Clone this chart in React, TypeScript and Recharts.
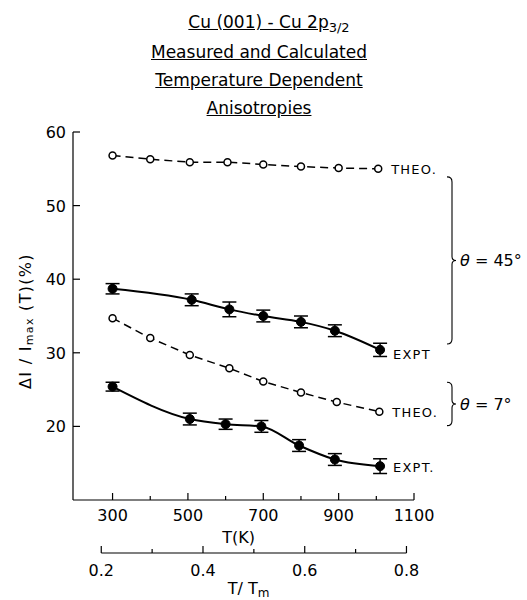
import React from 'react';
import { LineChart, Line, XAxis, YAxis, ErrorBar, ReferenceArea } from 'recharts';

const FONT = '"DejaVu Sans", sans-serif';
const TM = 1350; // K, melting point used for the T/Tm scale
const K_DOMAIN = [195, 1100];
const TM_DOMAIN = [K_DOMAIN[0] / TM, K_DOMAIN[1] / TM];

// theta = 45 deg
const theo45T = [300, 400, 505, 605, 700, 800, 900, 1005];
const theo45V = [56.8, 56.3, 55.9, 55.9, 55.6, 55.3, 55.1, 55.0];
const expt45T = [300, 510, 610, 700, 800, 890, 1010];
const expt45V = [38.7, 37.2, 35.9, 35.0, 34.2, 33.0, 30.4];
const expt45Err = [0.7, 0.8, 1.0, 0.8, 0.8, 0.8, 0.9];

// theta = 7 deg
const theo7T = [300, 400, 505, 610, 700, 800, 895, 1008];
const theo7V = [34.7, 32.0, 29.7, 27.9, 26.1, 24.6, 23.3, 22.0];
const expt7T = [300, 505, 600, 695, 795, 890, 1010];
const expt7V = [25.4, 21.0, 20.3, 20.0, 17.4, 15.5, 14.6];
const expt7Err = [0.6, 0.8, 0.7, 0.8, 0.8, 0.8, 1.0];

const kTicks = [300, 400, 500, 600, 700, 800, 900, 1000, 1100];
const kLabels = [300, 500, 700, 900, 1100];
const tmTicks = [0.2, 0.3, 0.4, 0.5, 0.6, 0.7, 0.8];
const tmLabels = ['0.2', '0.4', '0.6', '0.8'];
const yTicks = [20, 30, 40, 50, 60];

const TITLE = ['Measured and Calculated', 'Temperature Dependent', 'Anisotropies'];

// r = T/Tm, used to tie the second scale to the same points
const toRows = (t: number[], v: number[], e?: number[]) =>
  t.map((x, i) => ({ t: x, r: x / TM, v: v[i], err: e ? e[i] : 0 }));

const theo45 = toRows(theo45T, theo45V);
const expt45 = toRows(expt45T, expt45V, expt45Err);
const theo7 = toRows(theo7T, theo7V);
const expt7 = toRows(expt7T, expt7V, expt7Err);

const W = 527;
const H = 600;
const MARGIN = { top: 132, right: 113, bottom: 0, left: 13 };
const Y_W = 60;
const PLOT_W = W - MARGIN.left - MARGIN.right - Y_W;

const KTick = (p: any) => {
  const { x, y, payload } = p;
  const major = kLabels.includes(payload.value);
  return (
    <g>
      <line x1={x} x2={x} y1={y} y2={y - (major ? 7 : 4)} stroke="#000" strokeWidth={1.2} />
      {major && (
        <text x={x} y={y + 21} textAnchor="middle" fontSize={16} fontFamily={FONT} fill="#000">
          {payload.value}
        </text>
      )}
    </g>
  );
};

const TmTick = (p: any) => {
  const { x, y, payload, index } = p;
  const label = tmLabels.find((s) => Math.abs(parseFloat(s) - payload.value) < 1e-6);
  const step = (0.1 * PLOT_W) / (TM_DOMAIN[1] - TM_DOMAIN[0]);
  const last = index === tmTicks.length - 1;
  return (
    <g>
      <line x1={x} x2={x} y1={y} y2={y - (label ? 7 : 4)} stroke="#000" strokeWidth={1.2} />
      {!last && <line x1={x} x2={x + step} y1={y} y2={y} stroke="#000" strokeWidth={1.2} />}
      {label && (
        <text x={x} y={y + 23} textAnchor="middle" fontSize={16} fontFamily={FONT} fill="#000">
          {label}
        </text>
      )}
    </g>
  );
};

const YTick = (p: any) => {
  const { x, y, payload } = p;
  return (
    <g>
      <line x1={x} x2={x + 7} y1={y} y2={y} stroke="#000" strokeWidth={1.2} />
      <text x={x - 7} y={y + 6} textAnchor="end" fontSize={16} fontFamily={FONT} fill="#000">
        {payload.value}
      </text>
    </g>
  );
};

const endLabel = (text: string, count: number, dy: number) => (p: any) => {
  if (p.index !== count - 1) return null;
  const x = p.x ?? p.viewBox?.x;
  const y = p.y ?? p.viewBox?.y;
  return (
    <text x={x + 13} y={y + dy + 5} fontSize={13} fontFamily={FONT} letterSpacing={1.2} fill="#000">
      {text}
    </text>
  );
};

const Brace = (text: string) => (p: any) => {
  const { x, y, width, height } = p;
  const bx = x + width + 38;
  const top = y;
  const bot = y + height;
  const mid = (top + bot) / 2;
  const d = `M ${bx - 5} ${top} Q ${bx} ${top} ${bx} ${top + 5} L ${bx} ${mid - 4} Q ${bx} ${mid} ${bx + 4} ${mid} Q ${bx} ${mid} ${bx} ${mid + 4} L ${bx} ${bot - 5} Q ${bx} ${bot} ${bx - 5} ${bot}`;
  return (
    <g>
      <path d={d} fill="none" stroke="#000" strokeWidth={1.1} />
      <text x={bx + 8} y={mid + 6} fontSize={16} fontFamily={FONT} fill="#000">
        <tspan fontStyle="italic">θ</tspan> = {text}
      </text>
    </g>
  );
};

const YLabel = (p: any) => {
  const vb = p.viewBox;
  const cx = vb.x + 12;
  const cy = vb.y + vb.height / 2 + 5;
  return (
    <text
      x={cx}
      y={cy}
      transform={`rotate(-90 ${cx} ${cy})`}
      textAnchor="middle"
      dominantBaseline="central"
      fontSize={16}
      fontFamily={FONT}
      letterSpacing={1.3}
      fill="#000"
    >
      ΔI / I
      <tspan fontSize={11} dy={4}>max</tspan>
      <tspan dy={-4}> (T)(%)</tspan>
    </text>
  );
};

const XLabel = (text: React.ReactNode, dy: number, dx = 0) => (p: any) => {
  const vb = p.viewBox;
  return (
    <text x={vb.x + vb.width / 2 + dx} y={vb.y + dy} textAnchor="middle" fontSize={16} fontFamily={FONT} fill="#000">
      {text}
    </text>
  );
};

const dotOpen = { r: 3.5, fill: '#fff', stroke: '#000', strokeWidth: 1.5, strokeDasharray: 'none' };
const dotFill = { r: 4.5, fill: '#000', stroke: '#000', strokeWidth: 1 };

export default function App() {
  return (
    <div style={{ position: 'absolute', left: 0, top: 0, width: W, height: H, background: '#fff' }}>
      <div
        style={{
          position: 'absolute',
          left: 0,
          top: 8,
          width: 518,
          textAlign: 'center',
          fontFamily: FONT,
          fontSize: 17,
          lineHeight: '28px',
          color: '#000',
        }}
      >
        <div style={{ marginLeft: 20 }}>
          <span style={{ textDecoration: 'underline' }}>Cu (001) - Cu 2p</span>
          <span style={{ fontSize: 13, position: 'relative', top: 4 }}>3/2</span>
        </div>
        {TITLE.map((s) => (
          <div key={s}>
            <span style={{ textDecoration: 'underline' }}>{s}</span>
          </div>
        ))}
      </div>
      <LineChart width={W} height={H} margin={MARGIN}>
        <XAxis
          xAxisId="k"
          dataKey="t"
          type="number"
          domain={K_DOMAIN}
          allowDataOverflow
          ticks={kTicks}
          interval={0}
          height={53}
          tickSize={0}
          tickMargin={0}
          tick={<KTick />}
          axisLine={{ stroke: '#000', strokeWidth: 1.2 }}
          label={XLabel('T(K)', 43, -5)}
        />
        <XAxis
          xAxisId="tm"
          dataKey="r"
          type="number"
          domain={TM_DOMAIN}
          allowDataOverflow
          ticks={tmTicks}
          interval={0}
          height={47}
          tickSize={0}
          tickMargin={0}
          tick={<TmTick />}
          axisLine={false}
          label={XLabel(
            <>
              T/ T<tspan fontSize={12} dy={3}>m</tspan>
            </>,
            41,
            5
          )}
        />
        <YAxis
          type="number"
          domain={[10, 60]}
          allowDataOverflow
          ticks={yTicks}
          interval={0}
          width={Y_W}
          tickSize={0}
          tickMargin={0}
          tick={<YTick />}
          axisLine={{ stroke: '#000', strokeWidth: 1.2 }}
          label={YLabel}
        />
        <ReferenceArea xAxisId="k" y1={31.2} y2={53.9} ifOverflow="visible" fill="none" shape={Brace('45°')} />
        <ReferenceArea xAxisId="k" y1={20.1} y2={26.0} ifOverflow="visible" fill="none" shape={Brace('7°')} />
        {/* invisible twin so the T/Tm axis has a domain */}
        <Line
          xAxisId="tm"
          data={expt45}
          dataKey="v"
          stroke="none"
          dot={false}
          activeDot={false}
          isAnimationActive={false}
        />
        <Line
          xAxisId="k"
          data={theo45}
          dataKey="v"
          type="linear"
          stroke="#000"
          strokeWidth={1.5}
          strokeDasharray="8 5"
          dot={dotOpen}
          isAnimationActive={false}
          label={endLabel('THEO.', theo45.length, 0)}
        />
        <Line
          xAxisId="k"
          data={expt45}
          dataKey="v"
          type="monotone"
          stroke="#000"
          strokeWidth={2}
          dot={dotFill}
          isAnimationActive={false}
          label={endLabel('EXPT', expt45.length, 4)}
        >
          <ErrorBar dataKey="err" direction="y" width={7} strokeWidth={1.5} stroke="#000" />
        </Line>
        <Line
          xAxisId="k"
          data={theo7}
          dataKey="v"
          type="linear"
          stroke="#000"
          strokeWidth={1.5}
          strokeDasharray="8 5"
          dot={dotOpen}
          isAnimationActive={false}
          label={endLabel('THEO.', theo7.length, 0)}
        />
        <Line
          xAxisId="k"
          data={expt7}
          dataKey="v"
          type="monotone"
          stroke="#000"
          strokeWidth={2}
          dot={dotFill}
          isAnimationActive={false}
          label={endLabel('EXPT.', expt7.length, 1)}
        >
          <ErrorBar dataKey="err" direction="y" width={7} strokeWidth={1.5} stroke="#000" />
        </Line>
      </LineChart>
    </div>
  );
}
